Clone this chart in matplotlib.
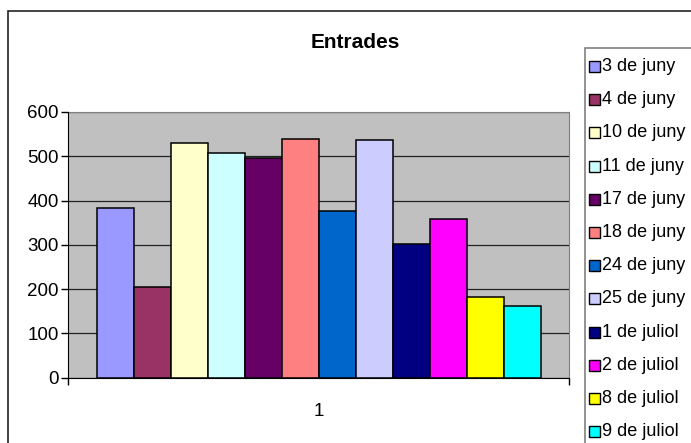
import matplotlib.pyplot as plt
from matplotlib.patches import Rectangle

# dades
dates = ['3 de juny', '4 de juny', '10 de juny', '11 de juny', '17 de juny',
         '18 de juny', '24 de juny', '25 de juny', '1 de juliol', '2 de juliol',
         '8 de juliol', '9 de juliol']
entrades = [384, 205, 531, 507, 495, 538, 377, 537, 303, 359, 182, 163]
colors = ['#9999FF', '#993366', '#FFFFCC', '#CCFFFF', '#660066', '#FF8080',
          '#0066CC', '#CCCCFF', '#000080', '#FF00FF', '#FFFF00', '#00FFFF']
yticks = [0, 100, 200, 300, 400, 500, 600]

plt.rcParams['font.family'] = ['Liberation Sans', 'DejaVu Sans']

W, H = 691, 443
fig = plt.figure(figsize=(W / 100, H / 100), dpi=100)

def fx(x):
    return x / W

def fy(y):
    return 1 - y / H

# marc exterior del grafic
fig.add_artist(Rectangle((fx(8), fy(460)), fx(700) - fx(8), fy(11) - fy(460),
                         transform=fig.transFigure, fill=False,
                         edgecolor='#222222', lw=1.2))

ax = fig.add_axes([fx(68.3), fy(377.7), fx(569) - fx(68.3), fy(112) - fy(377.7)])
ax.set_facecolor('#C0C0C0')

n = len(entrades)
xs = list(range(n))
ax.bar(xs, entrades, width=1.0, color=colors, edgecolor='black', linewidth=1.1,
       zorder=3)

marg = 0.765
ax.set_xlim(-0.5 - marg, n - 0.5 + marg)
ax.set_ylim(0, 600)
ax.set_yticks(yticks)
ax.yaxis.grid(True, color='#222222', lw=0.9, zorder=1)
ax.set_axisbelow(True)

ax.set_xticks([-0.5 - marg, n - 0.5 + marg])
ax.set_xticklabels(['', ''])
ax.set_xticks([(n - 1) / 2], minor=True)
ax.set_xticklabels(['1'], minor=True)
ax.tick_params(axis='x', which='minor', length=0, pad=18, labelsize=13.5)
ax.tick_params(axis='x', which='major', length=5, direction='out', width=1)
ax.tick_params(axis='y', length=5, direction='out', width=1, pad=2,
               labelsize=13.5)

for s in ['top', 'right']:
    ax.spines[s].set_color('#808080')
for s in ['left', 'bottom']:
    ax.spines[s].set_color('black')
ax.spines['left'].set_zorder(4)
ax.spines['bottom'].set_zorder(4)

fig.text(fx(355), fy(43), 'Entrades', ha='center', va='center',
         fontsize=15, fontweight='bold')

# llegenda
fig.add_artist(Rectangle((fx(585), fy(460)), fx(700) - fx(585), fy(48) - fy(460),
                         transform=fig.transFigure, facecolor='white',
                         edgecolor='#808080', lw=1.2))
for i, (lab, c) in enumerate(zip(dates, colors)):
    yc = 66.5 + i * 33.2
    fig.add_artist(Rectangle((fx(589), fy(yc + 5.5)), fx(600) - fx(589),
                             fy(yc - 5.5) - fy(yc + 5.5),
                             transform=fig.transFigure, facecolor=c,
                             edgecolor='black', lw=1.0))
    fig.text(fx(602), fy(yc), lab, ha='left', va='center', fontsize=13)

fig.savefig('out.png', dpi=100)
